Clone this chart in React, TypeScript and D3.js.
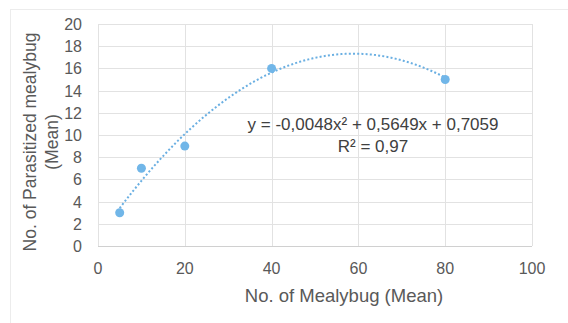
import React, { useEffect, useRef } from 'react';
import * as d3 from 'd3';

// Observed means
const mealybug = [5, 10, 20, 40, 80];
const parasitized = [3, 7, 9, 16, 15];

// Polynomial trendline (order 2) coefficients: a x² + b x + c
const trendCoef = [-0.0048, 0.5649, 0.7059];
const trendLabel = 'y = -0,0048x² + 0,5649x + 0,7059';
const r2Label = 'R² = 0,97';

const xTicks = [0, 20, 40, 60, 80, 100];
const yTicks = [0, 2, 4, 6, 8, 10, 12, 14, 16, 18, 20];

const xTitle = 'No. of Mealybug (Mean)';
const yTitle = ['No. of Parasitized mealybug', '(Mean)'];

const App = () => {
  const ref = useRef<SVGSVGElement>(null);

  useEffect(() => {
    const width = 568;
    const height = 323;
    const margin = { top: 24, right: 36, bottom: 77, left: 98 };
    const font = '"Liberation Sans", Arial, sans-serif';

    const svg = d3.select(ref.current);
    svg.selectAll('*').remove();

    // faint chart-area border (cropped on right and bottom)
    svg.append('rect')
      .attr('x', 10.5)
      .attr('y', 9.5)
      .attr('width', 700)
      .attr('height', 500)
      .attr('fill', '#fff')
      .attr('stroke', '#ececec');

    const x = d3.scaleLinear().domain([0, 100]).range([margin.left, width - margin.right]);
    const y = d3.scaleLinear().domain([0, 20]).range([height - margin.bottom, margin.top]);

    // gridlines
    svg.append('g')
      .selectAll('line')
      .data(yTicks.filter(t => t > 0))
      .enter()
      .append('line')
      .attr('x1', x(0))
      .attr('x2', x(100))
      .attr('y1', d => Math.round(y(d)) + 0.5)
      .attr('y2', d => Math.round(y(d)) + 0.5)
      .attr('stroke', '#e2e2e2');

    svg.append('g')
      .selectAll('line')
      .data(xTicks)
      .enter()
      .append('line')
      .attr('x1', d => Math.round(x(d)) + 0.5)
      .attr('x2', d => Math.round(x(d)) + 0.5)
      .attr('y1', y(20))
      .attr('y2', y(0))
      .attr('stroke', '#e2e2e2');

    // bottom axis line
    svg.append('line')
      .attr('x1', x(0))
      .attr('x2', x(100))
      .attr('y1', Math.round(y(0)) + 0.5)
      .attr('y2', Math.round(y(0)) + 0.5)
      .attr('stroke', '#d0d0d0');

    // tick labels
    svg.append('g')
      .selectAll('text')
      .data(yTicks)
      .enter()
      .append('text')
      .attr('x', x(0) - 16)
      .attr('y', d => y(d) + 6)
      .attr('text-anchor', 'end')
      .style('font-family', font)
      .style('font-size', '16px')
      .style('fill', '#595959')
      .text(d => d);

    svg.append('g')
      .selectAll('text')
      .data(xTicks)
      .enter()
      .append('text')
      .attr('x', d => x(d))
      .attr('y', y(0) + 28)
      .attr('text-anchor', 'middle')
      .style('font-family', font)
      .style('font-size', '16px')
      .style('fill', '#595959')
      .text(d => d);

    // axis titles
    svg.append('text')
      .attr('x', 344)
      .attr('y', 302)
      .attr('text-anchor', 'middle')
      .style('font-family', font)
      .style('font-size', '18.5px')
      .style('fill', '#595959')
      .text(xTitle);

    svg.append('g')
      .selectAll('text')
      .data(yTitle)
      .enter()
      .append('text')
      .attr('transform', (d, i) => `translate(${36 + i * 22}, 142) rotate(-90)`)
      .attr('text-anchor', 'middle')
      .style('font-family', font)
      .style('font-size', '17.5px')
      .style('fill', '#595959')
      .text(d => d);

    // trendline
    const [a, b, c] = trendCoef;
    const xs = d3.range(mealybug[0], mealybug[mealybug.length - 1] + 0.01, 0.5);
    const line = d3.line<number>()
      .x(d => x(d))
      .y(d => y(a * d * d + b * d + c));

    svg.append('path')
      .datum(xs)
      .attr('d', line)
      .attr('fill', 'none')
      .attr('stroke', '#6aafe2')
      .attr('stroke-width', 2)
      .attr('stroke-dasharray', '2,2.2');

    // points
    svg.append('g')
      .selectAll('circle')
      .data(mealybug.map((m, i) => ({ m, p: parasitized[i] })))
      .enter()
      .append('circle')
      .attr('cx', d => x(d.m))
      .attr('cy', d => y(d.p))
      .attr('r', 4.5)
      .attr('fill', '#71b6e8');

    // equation label
    svg.append('text')
      .attr('x', 373)
      .attr('y', 130)
      .attr('text-anchor', 'middle')
      .style('font-family', font)
      .style('font-size', '17px')
      .style('fill', '#404040')
      .text(trendLabel);

    svg.append('text')
      .attr('x', 373)
      .attr('y', 152)
      .attr('text-anchor', 'middle')
      .style('font-family', font)
      .style('font-size', '17px')
      .style('fill', '#404040')
      .text(r2Label);
  }, []);

  return (
    <svg
      ref={ref}
      width={568}
      height={323}
      style={{ position: 'absolute', left: 0, top: 0, background: '#fff' }}
    />
  );
};

export default App;
